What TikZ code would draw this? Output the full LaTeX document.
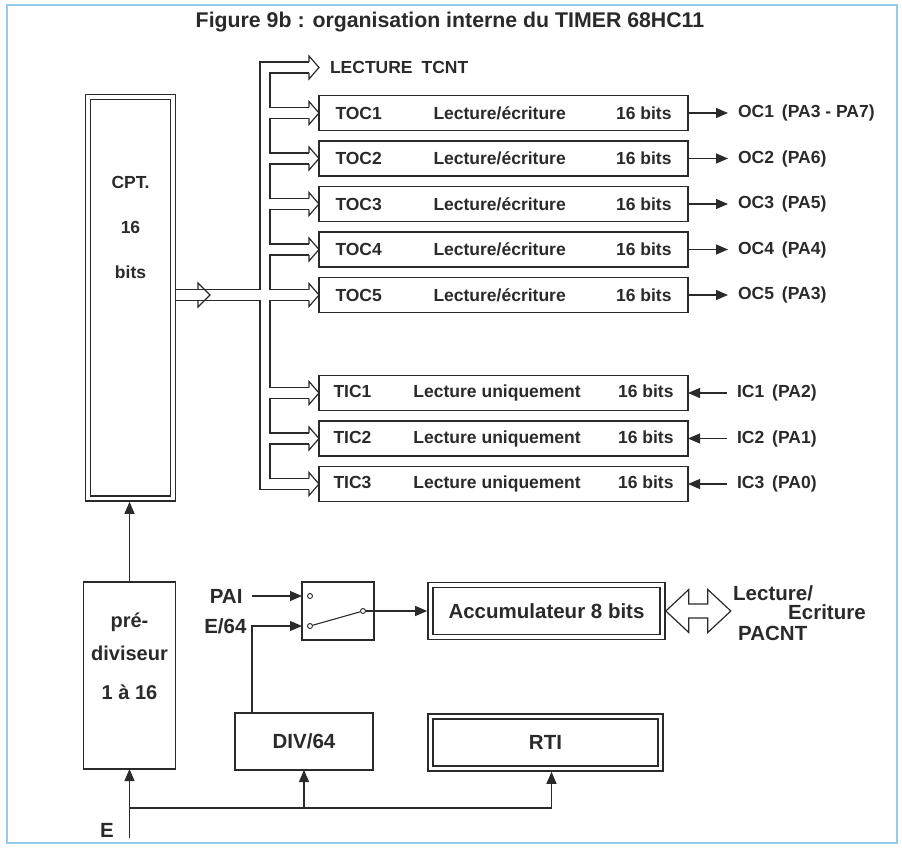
\documentclass[tikz,border=0pt]{standalone}
\usepackage{fontspec}
\setmainfont{Liberation Sans}
\usetikzlibrary{arrows.meta,positioning,calc}

\definecolor{ink}{HTML}{2A2A2A}
\definecolor{frameblue}{RGB}{150,205,235}

% register rows
\newcommand\ocrow[1]{\hbox to 336pt{\makebox[98pt][l]{#1}Lecture/écriture\hfill 16 bits}}
\newcommand\icrow[1]{\hbox to 340pt{\makebox[80pt][l]{#1}Lecture uniquement\hfill 16 bits}}
% hollow bus arrow head into a node
\newcommand\bushead[1]{\draw[bus] ($(#1.west)+(-10,-5.5)$) -- ++(0,-6) -- (#1.west) -- ++(-10,11.5) -- ++(0,-6);}

\begin{document}
\begin{tikzpicture}[x=1pt, y=-1pt,
  font=\bfseries\fontsize{17.5}{20}\selectfont, text=ink,
  reg/.style={rectangle, draw=ink, line width=1.5pt, minimum width=369pt, minimum height=35pt, inner sep=0pt, outer sep=0pt},
  blk/.style={rectangle, draw=ink, line width=1.5pt, inner sep=0pt, outer sep=0pt},
  dbl/.style={rectangle, draw=ink, line width=1.4pt, double, double distance=3.6pt, inner sep=0pt, outer sep=3.3pt},
  big/.style={font=\bfseries\fontsize{20.5}{23}\selectfont},
  sig/.style={draw=ink, line width=1.1pt, -{Triangle[length=12pt,width=10pt]}},
  bus/.style={draw=ink, line width=1.2pt},
  port/.style={anchor=west, inner xsep=10pt, inner ysep=1pt, outer sep=0pt},
  contact/.style={circle, draw=ink, line width=0.9pt, minimum size=5pt, inner sep=0pt, fill=white}
]
  \useasboundingbox (0,0) rectangle (902,848);
  \draw[frameblue, line width=1.5pt] (7,5) rectangle (897,843);

  \node[font=\bfseries\fontsize{21.3}{24}\selectfont] (title) at (450,22) {Figure 9b : organisation interne du TIMER 68HC11};

  % counter and registers
  \node[dbl, minimum width=85pt, minimum height=401.5pt] (cpt) at (130.5,297.75) {};
  \node[align=center, font=\bfseries\fontsize{17.5}{45}\selectfont] (cpttxt) at (130.5,227) {CPT.\\16\\bits};

  \node[anchor=west, inner xsep=11pt, inner ysep=2pt, outer sep=0pt] (lect) at (319,67.5) {LECTURE\hspace{9pt}TCNT};
  \node[reg] (toc1) at (503.5,113) {\ocrow{TOC1}};
  \node[reg, below=10.5pt of toc1] (toc2) {\ocrow{TOC2}};
  \node[reg, below=10.5pt of toc2] (toc3) {\ocrow{TOC3}};
  \node[reg, below=10.5pt of toc3] (toc4) {\ocrow{TOC4}};
  \node[reg, below=10.5pt of toc4] (toc5) {\ocrow{TOC5}};
  \node[reg] (tic1) at (503.5,393) {\icrow{TIC1}};
  \node[reg, below=10.5pt of tic1] (tic2) {\icrow{TIC2}};
  \node[reg, below=10.5pt of tic2] (tic3) {\icrow{TIC3}};

  \node[port, right=40pt of toc1] (oc1) {OC1\hspace{8pt}(PA3 - PA7)};
  \node[port, right=40pt of toc2] (oc2) {OC2\hspace{8pt}(PA6)};
  \node[port, right=40pt of toc3] (oc3) {OC3\hspace{8pt}(PA5)};
  \node[port, right=40pt of toc4] (oc4) {OC4\hspace{8pt}(PA4)};
  \node[port, right=40pt of toc5] (oc5) {OC5\hspace{8pt}(PA3)};
  \node[port, right=39pt of tic1] (ic1) {IC1\hspace{8pt}(PA2)};
  \node[port, right=39pt of tic2] (ic2) {IC2\hspace{8pt}(PA1)};
  \node[port, right=39pt of tic3] (ic3) {IC3\hspace{8pt}(PA0)};

  \draw[sig] (toc1.east) -- (oc1.west);
  \draw[sig] (toc2.east) -- (oc2.west);
  \draw[sig] (toc3.east) -- (oc3.west);
  \draw[sig] (toc4.east) -- (oc4.west);
  \draw[sig] (toc5.east) -- (oc5.west);
  \draw[sig] (ic1.west) -- (tic1.east);
  \draw[sig] (ic2.west) -- (tic2.east);
  \draw[sig] (ic3.west) -- (tic3.east);

  % 16 bit bus
  \draw[bus] (309,62) -- (260,62) -- (260,289.5) -- (176,289.5);
  \draw[bus] (176,300.5) -- (260,300.5) -- (260,489.5) -- (309,489.5);
  \draw[bus] (198,289.5) -- (198,283) -- (210,295) -- (198,307) -- (198,300.5);
  \draw[bus] (309,73) -- (270,73) -- (270,107.5) -- (309,107.5);
  \draw[bus] (309,118.5) -- (270,118.5) -- (270,153) -- (309,153);
  \draw[bus] (309,164) -- (270,164) -- (270,198.5) -- (309,198.5);
  \draw[bus] (309,209.5) -- (270,209.5) -- (270,244) -- (309,244);
  \draw[bus] (309,255) -- (270,255) -- (270,289.5) -- (309,289.5);
  \draw[bus] (309,300.5) -- (270,300.5) -- (270,387.5) -- (309,387.5);
  \draw[bus] (309,398.5) -- (270,398.5) -- (270,433) -- (309,433);
  \draw[bus] (309,444) -- (270,444) -- (270,478.5) -- (309,478.5);
  \bushead{lect} \bushead{toc1} \bushead{toc2} \bushead{toc3} \bushead{toc4}
  \bushead{toc5} \bushead{tic1} \bushead{tic2} \bushead{tic3}

  % prescaler, pulse accumulator, RTI
  \node[blk, minimum width=92pt, minimum height=187pt] (pre) at (129.5,675.5) {};
  \node[align=center, font=\bfseries\fontsize{20}{33}\selectfont] (pretxt) at (129.5,656) {pré-\\diviseur\\[6pt]1 à 16};
  \node[blk, minimum width=72pt, minimum height=58pt] (sw) at (338,611) {};
  \node[contact] (ca) at (310,596) {};
  \node[contact] (cb) at (310,626) {};
  \node[contact] (cc) at (363,611) {};
  \node[dbl, minimum width=232pt, minimum height=52pt, big] (acc) at (546.5,611) {Accumulateur 8 bits};
  \node[blk, minimum width=138pt, minimum height=57pt, big] (div) at (304,741.5) {DIV/64};
  \node[dbl, minimum width=230pt, minimum height=52pt, big] (rti) at (545.5,742.5) {RTI};

  \node[big, anchor=east] (pai) at (246,596) {PAI};
  \node[big, anchor=east] (e64) at (250,626) {E/64};
  \node[big] (elbl) at (107,830) {E};
  \node[big, anchor=base west, inner sep=0pt] (rw1) at (733,600) {Lecture/};
  \node[big, anchor=base west, inner sep=0pt] (rw2) at (788,619) {Ecriture};
  \node[big, anchor=base west, inner sep=0pt] (rw3) at (738,640) {PACNT};

  \coordinate (ein) at (129.5,838);
  \coordinate (ebus) at (129.5,808);

  \draw[sig] (pre.north) -- (pre.north |- cpt.south);
  \draw[sig] (ein) -- (pre.south);
  \draw[sig] (ebus -| div.south) -- (div.south);
  \draw[sig] (ebus) -| ([xshift=6pt]rti.south);
  \draw[sig, shorten <=6pt] (pai.east) -- (ca -| sw.west);
  \draw[sig] ([xshift=-52pt]div.north) |- (cb -| sw.west);
  \draw[draw=ink, line width=1.1pt] (cb) -- (cc);
  \draw[sig] (cc) -- (cc -| acc.west);
  \draw[bus] (acc.east) -- ++(23,-21.5) -- ++(0,14.5) -- ++(19,0) -- ++(0,-14.5) -- ++(23,21.5)
    -- ++(-23,21.5) -- ++(0,-14.5) -- ++(-19,0) -- ++(0,14.5) -- cycle;
\end{tikzpicture}
\end{document}
